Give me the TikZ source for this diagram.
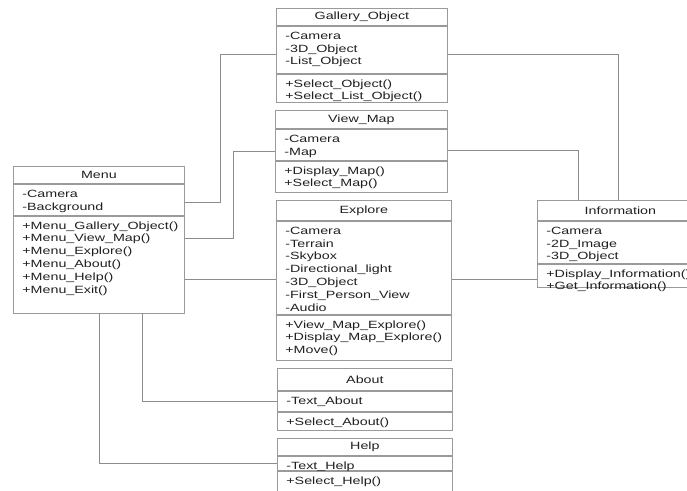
\documentclass[tikz,border=0pt]{standalone}
\usepackage{fontspec}
\setmainfont{Liberation Sans}[FakeStretch=1.36]
\definecolor{boxgray}{HTML}{9A9A9A}
\definecolor{linkgray}{HTML}{8C8C8C}
\definecolor{inkgray}{HTML}{202020}
% one section of a class box: width, height, lines
\newcommand{\members}[3]{\parbox[c][#2pt][t]{#1pt}{\leftskip=9pt\rule{0pt}{13pt}#3}}
\tikzset{
  classname/.style 2 args={draw=boxgray, line width=0.8pt, inner sep=0pt, anchor=north west,
    minimum width=#1pt, minimum height=#2pt, text=inkgray},
  classpart/.style={draw=boxgray, line width=0.8pt, inner sep=0pt, anchor=north, text=inkgray},
  link/.style={draw=linkgray, line width=0.8pt}
}
\begin{document}
\begin{tikzpicture}[x=1pt,y=-1pt, font=\fontsize{10.5}{12.8}\selectfont]
	\useasboundingbox (0,0) rectangle (687,490);
	\clip (0,0) rectangle (687,490);
	% Menu
	\node[classname={171}{17}] (menu) at (13,166) {Menu};
	\node[classpart] (menu-attr) at (menu.south) {\members{171}{31}{-Camera\\-Background}};
	\node[classpart] (menu-ops) at (menu-attr.south) {\members{171}{97}{+Menu\_Gallery\_Object()\\+Menu\_View\_Map()\\+Menu\_Explore()\\+Menu\_About()\\+Menu\_Help()\\+Menu\_Exit()}};
	% Gallery_Object
	\node[classname={171}{17}] (gallery) at (276,8) {Gallery\_Object};
	\node[classpart] (gallery-attr) at (gallery.south) {\members{171}{47}{-Camera\\-3D\_Object\\-List\_Object}};
	\node[classpart] (gallery-ops) at (gallery-attr.south) {\members{171}{28}{+Select\_Object()\\+Select\_List\_Object()}};
	% View_Map
	\node[classname={172}{18}] (viewmap) at (275,110) {View\_Map};
	\node[classpart] (viewmap-attr) at (viewmap.south) {\members{172}{31}{-Camera\\-Map}};
	\node[classpart] (viewmap-ops) at (viewmap-attr.south) {\members{172}{31}{+Display\_Map()\\+Select\_Map()}};
	% Explore
	\node[classname={175}{20}] (explore) at (276,200) {Explore};
	\node[classpart] (explore-attr) at (explore.south) {\members{175}{93}{-Camera\\-Terrain\\-Skybox\\-Directional\_light\\-3D\_Object\\-First\_Person\_View\\-Audio}};
	\node[classpart] (explore-ops) at (explore-attr.south) {\members{175}{45}{+View\_Map\_Explore()\\+Display\_Map\_Explore()\\+Move()}};
	% About
	\node[classname={175}{22}] (about) at (277,368) {About};
	\node[classpart] (about-attr) at (about.south) {\members{175}{20}{-Text\_About}};
	\node[classpart] (about-ops) at (about-attr.south) {\members{175}{18}{+Select\_About()}};
	% Help
	\node[classname={175}{17}] (help) at (277,438) {Help};
	\node[classpart] (help-attr) at (help.south) {\members{175}{14}{-Text\_Help}};
	\node[classpart] (help-ops) at (help-attr.south) {\members{175}{30}{+Select\_Help()}};
	% Information
	\node[classname={166}{20}] (info) at (537,200) {Information};
	\node[classpart] (info-attr) at (info.south) {\members{166}{42}{-Camera\\-2D\_Image\\-3D\_Object}};
	\node[classpart] (info-ops) at (info-attr.south) {\members{166}{23}{+Display\_Information()\\+Get\_Information()}};
	% connectors
	\draw[link] (menu-attr.east |- 0,202) -- ++(36,0) |- (gallery-attr.west |- 0,54);
	\draw[link] (menu-ops.east |- 0,238) -- ++(49,0) |- (viewmap-attr.west |- 0,151);
	\draw[link] (menu-ops.east |- 0,279) -- (explore-attr.west |- 0,279);
	\draw[link] (explore-attr.east |- 0,279) -- (info-ops.west |- 0,279);
	\draw[link] (gallery-attr.east |- 0,54) -| (info.north -| 618,0);
	\draw[link] (viewmap-attr.east |- 0,150) -| (info.north -| 578,0);
	\draw[link] (menu-ops.south -| 142,0) |- (about-attr.west);
	\draw[link] (menu-ops.south -| 99,0) |- (help-attr.west);
\end{tikzpicture}
\end{document}
